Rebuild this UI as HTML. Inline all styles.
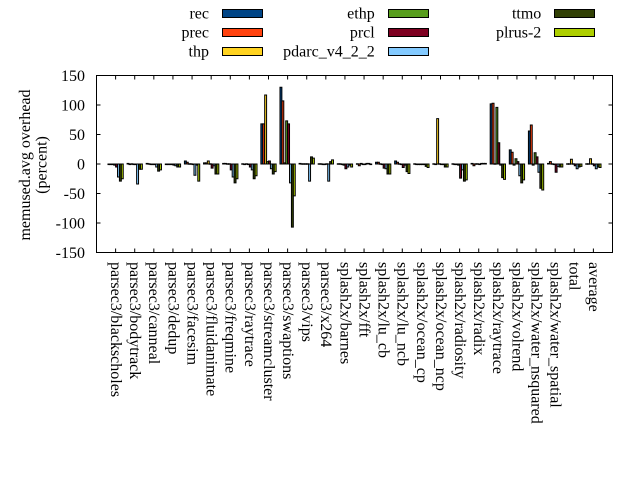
<!DOCTYPE html>
<html><head><meta charset="utf-8"><style>
html,body{margin:0;padding:0;background:#fff;}
svg{display:block;}
text{font-family:"Liberation Serif",serif;font-size:16px;fill:#000;}
.cl rect{stroke:#000;stroke-width:1;vector-effect:non-scaling-stroke;}
.a{fill:#004586}.b{fill:#ff420e}.c{fill:#ffd320}.d{fill:#579d1c}.e{fill:#7e0021}.f{fill:#83caff}.g{fill:#314004}.h{fill:#aecf00}
.lg rect{stroke:#000;stroke-width:1;}
</style></head><body>
<svg width="640" height="480" viewBox="0 0 640 480" xmlns="http://www.w3.org/2000/svg">
<rect x="0" y="0" width="640" height="480" fill="#fff"/>

<!-- legend -->
<g class="lg">
<text x="209" y="18.3" text-anchor="end">rec</text><rect class="a" x="222.5" y="9.5" width="40" height="8"/>
<text x="209" y="37.3" text-anchor="end">prec</text><rect class="b" x="222.5" y="28.5" width="40" height="8"/>
<text x="209" y="56.3" text-anchor="end">thp</text><rect class="c" x="222.5" y="47.5" width="40" height="8"/>
<text x="374.7" y="18.3" text-anchor="end">ethp</text><rect class="d" x="388.5" y="9.5" width="40" height="8"/>
<text x="374.7" y="37.3" text-anchor="end">prcl</text><rect class="e" x="388.5" y="28.5" width="40" height="8"/>
<text x="374.7" y="56.3" text-anchor="end">pdarc_v4_2_2</text><rect class="f" x="388.5" y="47.5" width="40" height="8"/>
<text x="541.3" y="18.3" text-anchor="end">ttmo</text><rect class="g" x="554.5" y="9.5" width="40" height="8"/>
<text x="541.3" y="37.3" text-anchor="end">plrus-2</text><rect class="h" x="554.5" y="28.5" width="40" height="8"/>
</g>

<!-- y axis labels -->
<text transform="translate(29.8,165) rotate(-90)" text-anchor="middle">memused.avg overhead</text>
<text transform="translate(46.5,165) rotate(-90)" text-anchor="middle">(percent)</text>

<!-- y tick labels -->
<g text-anchor="end">
<text x="85" y="81">150</text>
<text x="85" y="110.5">100</text>
<text x="85" y="140">50</text>
<text x="85" y="169.5">0</text>
<text x="85" y="199">-50</text>
<text x="85" y="228.5">-100</text>
<text x="85" y="258">-150</text>
</g>

<!-- bars -->
<g class="cl">
<g transform="translate(115.61,164) scale(1,-0.59)">
<rect class="a" x="-7.64" y="-1" width="1.91" height="1"/><rect class="b" x="-5.73" y="-1" width="1.91" height="1"/><rect class="c" x="-3.82" y="-1" width="1.91" height="1"/><rect class="d" x="-1.91" y="-2" width="1.91" height="2"/><rect class="e" x="0" y="-5" width="1.91" height="5"/><rect class="f" x="1.91" y="-22" width="1.91" height="22"/><rect class="g" x="3.82" y="-29" width="1.91" height="29"/><rect class="h" x="5.73" y="-25" width="1.91" height="25"/>
</g>
<g transform="translate(134.72,164) scale(1,-0.59)">
<rect class="a" x="-7.64" y="0" width="1.91" height="1"/><rect class="b" x="-5.73" y="-1" width="1.91" height="1"/><rect class="c" x="-3.82" y="-0.4" width="1.91" height="0.8"/><rect class="d" x="-1.91" y="-1" width="1.91" height="1"/><rect class="e" x="0" y="-1" width="1.91" height="1"/><rect class="f" x="1.91" y="-34" width="1.91" height="34"/><rect class="g" x="3.82" y="-9" width="1.91" height="9"/><rect class="h" x="5.73" y="-9" width="1.91" height="9"/>
</g>
<g transform="translate(153.83,164) scale(1,-0.59)">
<rect class="a" x="-7.64" y="0" width="1.91" height="1"/><rect class="b" x="-5.73" y="-0.4" width="1.91" height="0.8"/><rect class="c" x="-3.82" y="-1" width="1.91" height="1"/><rect class="d" x="-1.91" y="-1" width="1.91" height="1"/><rect class="e" x="0" y="-1" width="1.91" height="1"/><rect class="f" x="1.91" y="-5" width="1.91" height="5"/><rect class="g" x="3.82" y="-12" width="1.91" height="12"/><rect class="h" x="5.73" y="-10" width="1.91" height="10"/>
</g>
<g transform="translate(172.94,164) scale(1,-0.59)">
<rect class="a" x="-7.64" y="-1" width="1.91" height="1"/><rect class="b" x="-5.73" y="-1" width="1.91" height="1"/><rect class="c" x="-3.82" y="-1" width="1.91" height="1"/><rect class="d" x="-1.91" y="-1" width="1.91" height="1"/><rect class="e" x="0" y="-2" width="1.91" height="2"/><rect class="f" x="1.91" y="-3" width="1.91" height="3"/><rect class="g" x="3.82" y="-5" width="1.91" height="5"/><rect class="h" x="5.73" y="-5" width="1.91" height="5"/>
</g>
<g transform="translate(192.06,164) scale(1,-0.59)">
<rect class="a" x="-7.64" y="0" width="1.91" height="5"/><rect class="b" x="-5.73" y="0" width="1.91" height="3"/><rect class="c" x="-3.82" y="-0.4" width="1.91" height="0.8"/><rect class="d" x="-1.91" y="-0.4" width="1.91" height="0.8"/><rect class="e" x="0" y="-1" width="1.91" height="1"/><rect class="f" x="1.91" y="-19" width="1.91" height="19"/><rect class="g" x="3.82" y="-2" width="1.91" height="2"/><rect class="h" x="5.73" y="-29" width="1.91" height="29"/>
</g>
<g transform="translate(211.17,164) scale(1,-0.59)">
<rect class="a" x="-7.64" y="0" width="1.91" height="2"/><rect class="b" x="-5.73" y="0" width="1.91" height="2"/><rect class="c" x="-3.82" y="0" width="1.91" height="5"/><rect class="d" x="-1.91" y="-0.4" width="1.91" height="0.8"/><rect class="e" x="0" y="-7" width="1.91" height="7"/><rect class="f" x="1.91" y="-3" width="1.91" height="3"/><rect class="g" x="3.82" y="-17" width="1.91" height="17"/><rect class="h" x="5.73" y="-17" width="1.91" height="17"/>
</g>
<g transform="translate(230.28,164) scale(1,-0.59)">
<rect class="a" x="-7.64" y="0" width="1.91" height="1"/><rect class="b" x="-5.73" y="0" width="1.91" height="1"/><rect class="c" x="-3.82" y="-0.4" width="1.91" height="0.8"/><rect class="d" x="-1.91" y="-0.4" width="1.91" height="0.8"/><rect class="e" x="0" y="-10" width="1.91" height="10"/><rect class="f" x="1.91" y="-22" width="1.91" height="22"/><rect class="g" x="3.82" y="-32" width="1.91" height="32"/><rect class="h" x="5.73" y="-25" width="1.91" height="25"/>
</g>
<g transform="translate(249.39,164) scale(1,-0.59)">
<rect class="a" x="-7.64" y="-0.4" width="1.91" height="0.8"/><rect class="b" x="-5.73" y="-1" width="1.91" height="1"/><rect class="c" x="-3.82" y="-0.4" width="1.91" height="0.8"/><rect class="d" x="-1.91" y="-1" width="1.91" height="1"/><rect class="e" x="0" y="-5" width="1.91" height="5"/><rect class="f" x="1.91" y="-10" width="1.91" height="10"/><rect class="g" x="3.82" y="-25" width="1.91" height="25"/><rect class="h" x="5.73" y="-20" width="1.91" height="20"/>
</g>
<g transform="translate(268.50,164) scale(1,-0.59)">
<rect class="a" x="-7.64" y="0" width="1.91" height="68"/><rect class="b" x="-5.73" y="0" width="1.91" height="68"/><rect class="c" x="-3.82" y="0" width="1.91" height="117"/><rect class="d" x="-1.91" y="0" width="1.91" height="4"/><rect class="e" x="0" y="0" width="1.91" height="5"/><rect class="f" x="1.91" y="-8" width="1.91" height="8"/><rect class="g" x="3.82" y="-17" width="1.91" height="17"/><rect class="h" x="5.73" y="-13" width="1.91" height="13"/>
</g>
<g transform="translate(287.61,164) scale(1,-0.59)">
<rect class="a" x="-7.64" y="0" width="1.91" height="130"/><rect class="b" x="-5.73" y="0" width="1.91" height="107"/><rect class="c" x="-3.82" y="0" width="1.91" height="2"/><rect class="d" x="-1.91" y="0" width="1.91" height="73"/><rect class="e" x="0" y="0" width="1.91" height="68"/><rect class="f" x="1.91" y="-32" width="1.91" height="32"/><rect class="g" x="3.82" y="-107" width="1.91" height="107"/><rect class="h" x="5.73" y="-54" width="1.91" height="54"/>
</g>
<g transform="translate(306.72,164) scale(1,-0.59)">
<rect class="a" x="-7.64" y="0" width="1.91" height="1"/><rect class="b" x="-5.73" y="-0.4" width="1.91" height="0.8"/><rect class="c" x="-3.82" y="-0.4" width="1.91" height="0.8"/><rect class="d" x="-1.91" y="-0.4" width="1.91" height="0.8"/><rect class="e" x="0" y="-0.4" width="1.91" height="0.8"/><rect class="f" x="1.91" y="-29" width="1.91" height="29"/><rect class="g" x="3.82" y="0" width="1.91" height="12"/><rect class="h" x="5.73" y="0" width="1.91" height="10"/>
</g>
<g transform="translate(325.83,164) scale(1,-0.59)">
<rect class="a" x="-7.64" y="-0.4" width="1.91" height="0.8"/><rect class="b" x="-5.73" y="-0.4" width="1.91" height="0.8"/><rect class="c" x="-3.82" y="-1" width="1.91" height="1"/><rect class="d" x="-1.91" y="-1" width="1.91" height="1"/><rect class="e" x="0" y="-0.4" width="1.91" height="0.8"/><rect class="f" x="1.91" y="-29" width="1.91" height="29"/><rect class="g" x="3.82" y="0" width="1.91" height="4"/><rect class="h" x="5.73" y="0" width="1.91" height="7"/>
</g>
<g transform="translate(344.94,164) scale(1,-0.59)">
<rect class="a" x="-7.64" y="-0.4" width="1.91" height="0.8"/><rect class="b" x="-5.73" y="-0.4" width="1.91" height="0.8"/><rect class="c" x="-3.82" y="-1" width="1.91" height="1"/><rect class="d" x="-1.91" y="-2" width="1.91" height="2"/><rect class="e" x="0" y="-8" width="1.91" height="8"/><rect class="f" x="1.91" y="-5" width="1.91" height="5"/><rect class="g" x="3.82" y="-2" width="1.91" height="2"/><rect class="h" x="5.73" y="-5" width="1.91" height="5"/>
</g>
<g transform="translate(364.06,164) scale(1,-0.59)">
<rect class="a" x="-7.64" y="-0.4" width="1.91" height="0.8"/><rect class="b" x="-5.73" y="-3" width="1.91" height="3"/><rect class="c" x="-3.82" y="0" width="1.91" height="1"/><rect class="d" x="-1.91" y="-1" width="1.91" height="1"/><rect class="e" x="0" y="-1" width="1.91" height="1"/><rect class="f" x="1.91" y="0" width="1.91" height="1"/><rect class="g" x="3.82" y="0" width="1.91" height="1"/><rect class="h" x="5.73" y="-1" width="1.91" height="1"/>
</g>
<g transform="translate(383.17,164) scale(1,-0.59)">
<rect class="a" x="-7.64" y="0" width="1.91" height="3"/><rect class="b" x="-5.73" y="0" width="1.91" height="3"/><rect class="c" x="-3.82" y="-0.4" width="1.91" height="0.8"/><rect class="d" x="-1.91" y="-1" width="1.91" height="1"/><rect class="e" x="0" y="-7" width="1.91" height="7"/><rect class="f" x="1.91" y="-8" width="1.91" height="8"/><rect class="g" x="3.82" y="-17" width="1.91" height="17"/><rect class="h" x="5.73" y="-17" width="1.91" height="17"/>
</g>
<g transform="translate(402.28,164) scale(1,-0.59)">
<rect class="a" x="-7.64" y="0" width="1.91" height="5"/><rect class="b" x="-5.73" y="0" width="1.91" height="3"/><rect class="c" x="-3.82" y="-0.4" width="1.91" height="0.8"/><rect class="d" x="-1.91" y="-1" width="1.91" height="1"/><rect class="e" x="0" y="-6" width="1.91" height="6"/><rect class="f" x="1.91" y="-2" width="1.91" height="2"/><rect class="g" x="3.82" y="-13" width="1.91" height="13"/><rect class="h" x="5.73" y="-16" width="1.91" height="16"/>
</g>
<g transform="translate(421.39,164) scale(1,-0.59)">
<rect class="a" x="-7.64" y="-0.4" width="1.91" height="0.8"/><rect class="b" x="-5.73" y="-1" width="1.91" height="1"/><rect class="c" x="-3.82" y="-1" width="1.91" height="1"/><rect class="d" x="-1.91" y="-1" width="1.91" height="1"/><rect class="e" x="0" y="-1" width="1.91" height="1"/><rect class="f" x="1.91" y="-1" width="1.91" height="1"/><rect class="g" x="3.82" y="-4" width="1.91" height="4"/><rect class="h" x="5.73" y="-6" width="1.91" height="6"/>
</g>
<g transform="translate(440.50,164) scale(1,-0.59)">
<rect class="a" x="-7.64" y="-0.4" width="1.91" height="0.8"/><rect class="b" x="-5.73" y="-1" width="1.91" height="1"/><rect class="c" x="-3.82" y="0" width="1.91" height="77"/><rect class="d" x="-1.91" y="-0.4" width="1.91" height="0.8"/><rect class="e" x="0" y="-1" width="1.91" height="1"/><rect class="f" x="1.91" y="-1" width="1.91" height="1"/><rect class="g" x="3.82" y="-5" width="1.91" height="5"/><rect class="h" x="5.73" y="-5" width="1.91" height="5"/>
</g>
<g transform="translate(459.61,164) scale(1,-0.59)">
<rect class="a" x="-7.64" y="-0.4" width="1.91" height="0.8"/><rect class="b" x="-5.73" y="-1" width="1.91" height="1"/><rect class="c" x="-3.82" y="-1" width="1.91" height="1"/><rect class="d" x="-1.91" y="-2" width="1.91" height="2"/><rect class="e" x="0" y="-24" width="1.91" height="24"/><rect class="f" x="1.91" y="-10" width="1.91" height="10"/><rect class="g" x="3.82" y="-29" width="1.91" height="29"/><rect class="h" x="5.73" y="-27" width="1.91" height="27"/>
</g>
<g transform="translate(478.72,164) scale(1,-0.59)">
<rect class="a" x="-7.64" y="0" width="1.91" height="1"/><rect class="b" x="-5.73" y="-3" width="1.91" height="3"/><rect class="c" x="-3.82" y="-0.4" width="1.91" height="0.8"/><rect class="d" x="-1.91" y="-0.4" width="1.91" height="0.8"/><rect class="e" x="0" y="-1" width="1.91" height="1"/><rect class="f" x="1.91" y="0" width="1.91" height="1"/><rect class="g" x="3.82" y="0" width="1.91" height="1"/><rect class="h" x="5.73" y="0" width="1.91" height="1"/>
</g>
<g transform="translate(497.83,164) scale(1,-0.59)">
<rect class="a" x="-7.64" y="0" width="1.91" height="102"/><rect class="b" x="-5.73" y="0" width="1.91" height="103"/><rect class="c" x="-3.82" y="-0.4" width="1.91" height="0.8"/><rect class="d" x="-1.91" y="0" width="1.91" height="96"/><rect class="e" x="0" y="0" width="1.91" height="36"/><rect class="f" x="1.91" y="-2" width="1.91" height="2"/><rect class="g" x="3.82" y="-23" width="1.91" height="23"/><rect class="h" x="5.73" y="-26" width="1.91" height="26"/>
</g>
<g transform="translate(516.94,164) scale(1,-0.59)">
<rect class="a" x="-7.64" y="0" width="1.91" height="24"/><rect class="b" x="-5.73" y="0" width="1.91" height="20"/><rect class="c" x="-3.82" y="-2" width="1.91" height="2"/><rect class="d" x="-1.91" y="0" width="1.91" height="9"/><rect class="e" x="0" y="0" width="1.91" height="4"/><rect class="f" x="1.91" y="-20" width="1.91" height="20"/><rect class="g" x="3.82" y="-32" width="1.91" height="32"/><rect class="h" x="5.73" y="-27" width="1.91" height="27"/>
</g>
<g transform="translate(536.06,164) scale(1,-0.59)">
<rect class="a" x="-7.64" y="0" width="1.91" height="56"/><rect class="b" x="-5.73" y="0" width="1.91" height="66"/><rect class="c" x="-3.82" y="-2" width="1.91" height="2"/><rect class="d" x="-1.91" y="0" width="1.91" height="19"/><rect class="e" x="0" y="0" width="1.91" height="12"/><rect class="f" x="1.91" y="-14" width="1.91" height="14"/><rect class="g" x="3.82" y="-41" width="1.91" height="41"/><rect class="h" x="5.73" y="-44" width="1.91" height="44"/>
</g>
<g transform="translate(555.17,164) scale(1,-0.59)">
<rect class="a" x="-7.64" y="0" width="1.91" height="1"/><rect class="b" x="-5.73" y="0" width="1.91" height="4"/><rect class="c" x="-3.82" y="-0.4" width="1.91" height="0.8"/><rect class="d" x="-1.91" y="-1" width="1.91" height="1"/><rect class="e" x="0" y="-14" width="1.91" height="14"/><rect class="f" x="1.91" y="-4" width="1.91" height="4"/><rect class="g" x="3.82" y="-5" width="1.91" height="5"/><rect class="h" x="5.73" y="-5" width="1.91" height="5"/>
</g>
<g transform="translate(574.28,164) scale(1,-0.59)">
<rect class="a" x="-7.64" y="-0.4" width="1.91" height="0.8"/><rect class="b" x="-5.73" y="-0.4" width="1.91" height="0.8"/><rect class="c" x="-3.82" y="0" width="1.91" height="8"/><rect class="d" x="-1.91" y="-0.4" width="1.91" height="0.8"/><rect class="e" x="0" y="-3" width="1.91" height="3"/><rect class="f" x="1.91" y="-8" width="1.91" height="8"/><rect class="g" x="3.82" y="-5" width="1.91" height="5"/><rect class="h" x="5.73" y="-4" width="1.91" height="4"/>
</g>
<g transform="translate(593.39,164) scale(1,-0.59)">
<rect class="a" x="-7.64" y="-0.4" width="1.91" height="0.8"/><rect class="b" x="-5.73" y="-0.4" width="1.91" height="0.8"/><rect class="c" x="-3.82" y="0" width="1.91" height="9"/><rect class="d" x="-1.91" y="-0.4" width="1.91" height="0.8"/><rect class="e" x="0" y="-3" width="1.91" height="3"/><rect class="f" x="1.91" y="-8" width="1.91" height="8"/><rect class="g" x="3.82" y="-5" width="1.91" height="5"/><rect class="h" x="5.73" y="-6" width="1.91" height="6"/>
</g>
</g>

<!-- frame -->
<rect x="96.5" y="75.5" width="516" height="177" fill="none" stroke="#000" stroke-width="1"/>

<!-- y ticks -->
<path stroke="#000" stroke-width="1" fill="none" d="
M96.5 105H100.5M96.5 134.5H100.5M96.5 164H100.5M96.5 193.5H100.5M96.5 223H100.5
M612.5 105H608.5M612.5 134.5H608.5M612.5 164H608.5M612.5 193.5H608.5M612.5 223H608.5"/>

<!-- x ticks -->
<path stroke="#000" stroke-width="1" fill="none" d="
M115.61 252.5V248.5M134.72 252.5V248.5M153.83 252.5V248.5M172.94 252.5V248.5M192.06 252.5V248.5M211.17 252.5V248.5M230.28 252.5V248.5M249.39 252.5V248.5M268.5 252.5V248.5M287.61 252.5V248.5M306.72 252.5V248.5M325.83 252.5V248.5M344.94 252.5V248.5M364.06 252.5V248.5M383.17 252.5V248.5M402.28 252.5V248.5M421.39 252.5V248.5M440.5 252.5V248.5M459.61 252.5V248.5M478.72 252.5V248.5M497.83 252.5V248.5M516.94 252.5V248.5M536.06 252.5V248.5M555.17 252.5V248.5M574.28 252.5V248.5M593.39 252.5V248.5
M115.61 75.5V79.5M134.72 75.5V79.5M153.83 75.5V79.5M172.94 75.5V79.5M192.06 75.5V79.5M211.17 75.5V79.5M230.28 75.5V79.5M249.39 75.5V79.5M268.5 75.5V79.5M287.61 75.5V79.5M306.72 75.5V79.5M325.83 75.5V79.5M344.94 75.5V79.5M364.06 75.5V79.5M383.17 75.5V79.5M402.28 75.5V79.5M421.39 75.5V79.5M440.5 75.5V79.5M459.61 75.5V79.5M478.72 75.5V79.5M497.83 75.5V79.5M516.94 75.5V79.5M536.06 75.5V79.5M555.17 75.5V79.5M574.28 75.5V79.5M593.39 75.5V79.5"/>

<!-- x labels -->
<g>
<text transform="translate(111.0,262) rotate(90)">parsec3/blackscholes</text>
<text transform="translate(130.1,262) rotate(90)">parsec3/bodytrack</text>
<text transform="translate(149.2,262) rotate(90)">parsec3/canneal</text>
<text transform="translate(168.3,262) rotate(90)">parsec3/dedup</text>
<text transform="translate(187.5,262) rotate(90)">parsec3/facesim</text>
<text transform="translate(206.6,262) rotate(90)">parsec3/fluidanimate</text>
<text transform="translate(225.7,262) rotate(90)">parsec3/freqmine</text>
<text transform="translate(244.8,262) rotate(90)">parsec3/raytrace</text>
<text transform="translate(263.9,262) rotate(90)">parsec3/streamcluster</text>
<text transform="translate(283.0,262) rotate(90)">parsec3/swaptions</text>
<text transform="translate(302.1,262) rotate(90)">parsec3/vips</text>
<text transform="translate(321.2,262) rotate(90)">parsec3/x264</text>
<text transform="translate(340.3,262) rotate(90)">splash2x/barnes</text>
<text transform="translate(359.5,262) rotate(90)">splash2x/fft</text>
<text transform="translate(378.6,262) rotate(90)">splash2x/lu_cb</text>
<text transform="translate(397.7,262) rotate(90)">splash2x/lu_ncb</text>
<text transform="translate(416.8,262) rotate(90)">splash2x/ocean_cp</text>
<text transform="translate(435.9,262) rotate(90)">splash2x/ocean_ncp</text>
<text transform="translate(455.0,262) rotate(90)">splash2x/radiosity</text>
<text transform="translate(474.1,262) rotate(90)">splash2x/radix</text>
<text transform="translate(493.2,262) rotate(90)">splash2x/raytrace</text>
<text transform="translate(512.3,262) rotate(90)">splash2x/volrend</text>
<text transform="translate(531.5,262) rotate(90)">splash2x/water_nsquared</text>
<text transform="translate(550.6,262) rotate(90)">splash2x/water_spatial</text>
<text transform="translate(569.7,262) rotate(90)">total</text>
<text transform="translate(588.8,262) rotate(90)">average</text>
</g>
</svg>
</body></html>
